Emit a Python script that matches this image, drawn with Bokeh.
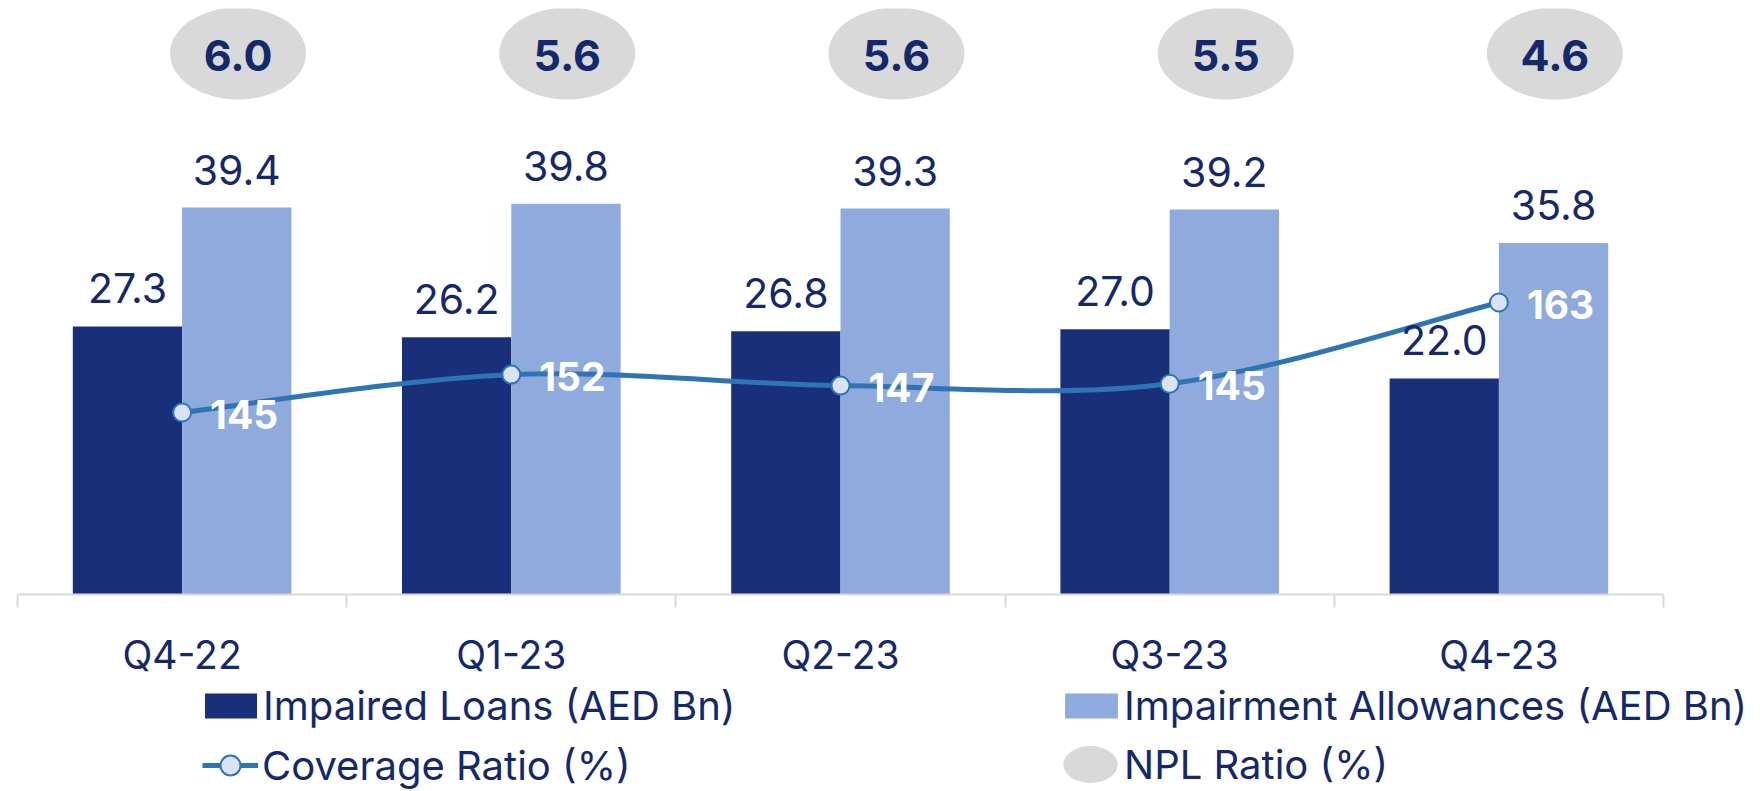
from bokeh.plotting import figure
from bokeh.layouts import column
from bokeh.models import (ColumnDataSource, Range1d, LinearAxis, FixedTicker, Legend,
                          LegendItem)
from bokeh.transform import dodge
from bokeh.core.properties import value
from bokeh.embed import file_html
from bokeh.resources import INLINE

# ---------------- data ----------------
quarters = ["Q4-22", "Q1-23", "Q2-23", "Q3-23", "Q4-23"]
impaired_loans = [27.3, 26.2, 26.8, 27.0, 22.0]            # AED Bn
impairment_allowances = [39.4, 39.8, 39.3, 39.2, 35.8]     # AED Bn
coverage_ratio = [145, 152, 147, 145, 163]                 # % (labels)
coverage_drawn = [145.0, 151.2, 149.4, 149.7, 163.0]       # % (heights as drawn in the source)
npl_ratio = [6.0, 5.6, 5.6, 5.5, 4.6]                      # %

# ---------------- style ----------------
FONT = "Inter"
NAVY = "#13296B"
DARK = "#1A2F7A"
LIGHT = "#8FAADC"
LINE = "#2E75B6"
MARK_FILL = "#DAE3F3"
GREY = "#D9D9D9"

W = 1748
PX_PER_CAT = 329.2
X_START = -17 / PX_PER_CAT          # category axis starts 17px from the left edge
X_END = X_START + W / PX_PER_CAT    # frame spans the full width
BAR_MAX = 59.67          # top of bar value range
NPL_ROW = 55.1           # vertical position of the NPL bubbles (bar units)
COV_RANGE = (115.21, 211.12)

n = len(quarters)
idx = [i + 0.5 for i in range(n)]   # category centres on a 0..n axis

src = ColumnDataSource(dict(
    q=quarters,
    idx=idx,
    il=impaired_loans,
    ia=impairment_allowances,
    il_txt=[f"{v:.1f}" for v in impaired_loans],
    ia_txt=[f"{v:.1f}" for v in impairment_allowances],
    cov=coverage_drawn,
    cov_txt=[str(v) for v in coverage_ratio],
    npl_txt=[f"{v:.1f}" for v in npl_ratio],
    npl_y=[NPL_ROW] * n,
))

# smooth (Excel-like) curve through the coverage points
bx0, by0, bx1, by1, bcx0, bcy0, bcx1, bcy1 = ([] for _ in range(8))
for i in range(n - 1):
    pm = max(i - 1, 0)
    pp = min(i + 2, n - 1)
    bx0.append(idx[i]); by0.append(coverage_drawn[i])
    bx1.append(idx[i + 1]); by1.append(coverage_drawn[i + 1])
    bcx0.append(idx[i] + (idx[i + 1] - idx[pm]) / 6)
    bcy0.append(coverage_drawn[i] + (coverage_drawn[i + 1] - coverage_drawn[pm]) / 6)
    bcx1.append(idx[i + 1] - (idx[pp] - idx[i]) / 6)
    bcy1.append(coverage_drawn[i + 1] - (coverage_drawn[pp] - coverage_drawn[i]) / 6)
curve = ColumnDataSource(dict(x0=bx0, y0=by0, x1=bx1, y1=by1,
                              cx0=bcx0, cy0=bcy0, cx1=bcx1, cy1=bcy1))


def draw_series(fig):
    """Draw all data glyphs on fig; returns the renderers (used for legends)."""
    r_il = fig.vbar(x=dodge("idx", -0.166), top="il", width=0.332,
                    source=src, fill_color=DARK, line_color=None)
    r_ia = fig.vbar(x=dodge("idx", 0.166), top="ia", width=0.332,
                    source=src, fill_color=LIGHT, line_color=None)
    r_npl = fig.ellipse(x=dodge("idx", 0.17), y="npl_y", width=136, height=92,
                        width_units="screen", height_units="screen", source=src,
                        fill_color=GREY, line_color=None)
    r_line = fig.bezier(x0="x0", y0="y0", x1="x1", y1="y1",
                        cx0="cx0", cy0="cy0", cx1="cx1", cy1="cy1",
                        source=curve, y_range_name="cov", line_color=LINE, line_width=5)
    r_mark = fig.scatter(x="idx", y="cov", source=src, y_range_name="cov",
                         size=18, fill_color=MARK_FILL, line_color=LINE, line_width=2)
    return r_il, r_ia, r_npl, r_line, r_mark


# ---------------- main chart ----------------
p = figure(x_range=Range1d(X_START, X_END), y_range=Range1d(0, BAR_MAX),
           frame_width=W, frame_height=586,
           min_border_left=0, min_border_right=0, min_border_top=8, min_border_bottom=82,
           x_axis_location=None, y_axis_location=None,
           output_backend="svg", toolbar_location=None)
p.outline_line_color = None
p.xgrid.visible = False
p.ygrid.visible = False
p.extra_y_ranges = {"cov": Range1d(*COV_RANGE)}

draw_series(p)

# bar labels
p.text(x=dodge("idx", -0.166), y="il", text="il_txt", source=src,
       text_align="center", text_baseline="middle", y_offset=-38,
       text_font=value(FONT), text_font_size="41px", text_color=NAVY)
p.text(x=dodge("idx", 0.166), y="ia", text="ia_txt", source=src,
       text_align="center", text_baseline="middle", y_offset=-38,
       text_font=value(FONT), text_font_size="41px", text_color=NAVY)

# NPL labels
p.text(x=dodge("idx", 0.17), y="npl_y", text="npl_txt", source=src,
       text_align="center", text_baseline="middle", y_offset=2,
       text_font=value(FONT), text_font_size="43px", text_font_style="bold", text_color=NAVY)

# coverage labels
p.text(x="idx", y="cov", text="cov_txt", source=src, y_range_name="cov",
       x_offset=28, text_align="left", text_baseline="middle", y_offset=2,
       text_font=value(FONT), text_font_size="39px", text_font_style="bold", text_color="white")

# x axis: category labels at centres, boundary ticks as minor ticks
xaxis = LinearAxis(ticker=FixedTicker(ticks=idx, minor_ticks=list(range(n + 1))),
                   bounds=(0, n),
                   major_label_overrides={c: q for c, q in zip(idx, quarters)},
                   axis_line_color=GREY, axis_line_width=2,
                   major_tick_line_color=None, major_tick_in=0, major_tick_out=0,
                   minor_tick_line_color=GREY, minor_tick_line_width=2,
                   minor_tick_in=0, minor_tick_out=13,
                   major_label_standoff=23,
                   major_label_text_font=FONT, major_label_text_font_size="39px",
                   major_label_text_color=NAVY)
p.add_layout(xaxis, "below")

# ---------------- legend strip ----------------
# same glyphs, but the strip's ranges look far away from the data, so only the legend shows
LH = 114
lg = figure(x_range=Range1d(1000, 1001), y_range=Range1d(1000, 1001),
            frame_width=W, frame_height=LH, min_border=0,
            x_axis_location=None, y_axis_location=None,
            output_backend="svg", toolbar_location=None)
lg.outline_line_color = None
lg.xgrid.visible = False
lg.ygrid.visible = False
lg.extra_y_ranges = {"cov": Range1d(5000, 5001)}
l_il, l_ia, l_npl, l_line, l_mark = draw_series(lg)


def mk_legend(label, renderers, loc, gw, gh, standoff):
    return Legend(items=[LegendItem(label=label, renderers=renderers)], location=loc,
                  glyph_width=gw, glyph_height=gh, label_standoff=standoff,
                  label_text_font=FONT, label_text_font_size="40px", label_text_color=NAVY,
                  padding=0, margin=0, spacing=0, border_line_color=None,
                  background_fill_alpha=0)


lg.add_layout(mk_legend("Impaired Loans (AED Bn)", [l_il], (198, 64), 65, 31, 0), "center")
lg.add_layout(mk_legend("Impairment Allowances (AED Bn)", [l_ia], (1058, 64), 66, 31, 0), "center")
lg.add_layout(mk_legend("Coverage Ratio (%)", [l_line, l_mark], (202, 4), 56, 50, 4), "center")
lg.add_layout(mk_legend("NPL Ratio (%)", [l_npl], (1056, -4), 68, 68, 0), "center")

page = column(p, lg, spacing=0)
open("out.html", "w").write(file_html(page, INLINE))
